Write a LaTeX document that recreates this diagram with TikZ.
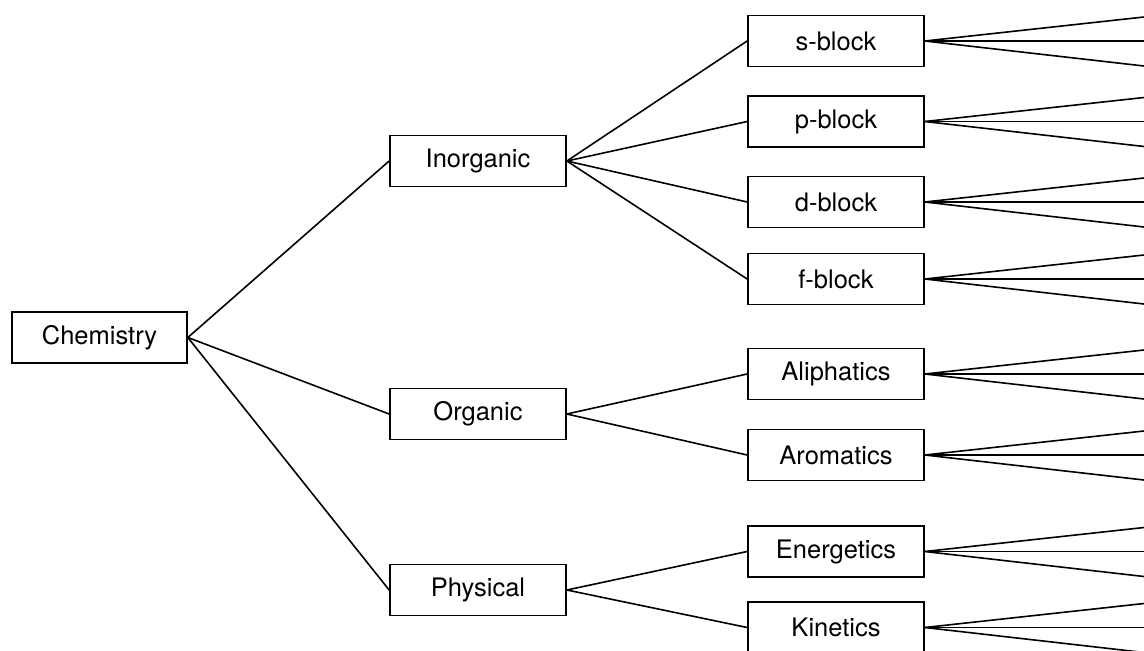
\documentclass[tikz,border=0pt]{standalone}
\usepackage{fontspec}
\setmainfont{TeX Gyre Heros}
\begin{document}
\begin{tikzpicture}[x=1pt,y=-1pt,
  box/.style={draw=black, line width=1.7pt, rectangle, minimum width=176pt, minimum height=51pt, inner sep=0pt, font=\fontsize{25.5}{30}\selectfont},
  link/.style={draw=black, line width=1.6pt}]
\useasboundingbox (0,0) rectangle (1144,651);
\node[box, minimum width=175pt] (chem) at (99.5,337.5) {Chemistry};
\node[box] (inorg) at (478,161) {Inorganic};
\node[box] (org) at (478,414) {Organic};
\node[box] (phys) at (478,590) {Physical};
\node[box] (s) at (836,41) {s-block};
\node[box] (p) at (836,121.5) {p-block};
\node[box] (d) at (836,202) {d-block};
\node[box] (f) at (836,279) {f-block};
\node[box] (ali) at (836,374) {Aliphatics};
\node[box] (aro) at (836,455) {Aromatics};
\node[box] (ene) at (836,551.5) {Energetics};
\node[box] (kin) at (836,627.5) {Kinetics};
\draw[link] (chem.east) -- (inorg.west);
\draw[link] (chem.east) -- (org.west);
\draw[link] (chem.east) -- (phys.west);
\foreach \c in {s,p,d,f} \draw[link] (inorg.east) -- (\c.west);
\foreach \c in {ali,aro} \draw[link] (org.east) -- (\c.west);
\foreach \c in {ene,kin} \draw[link] (phys.east) -- (\c.west);
\foreach \c/\y in {s/41,p/121.5,d/202,f/279,ali/374,aro/455,ene/551.5,kin/627.5}{
  \coordinate (\c-a) at (1144,\y-24);
  \coordinate (\c-b) at (1144,\y);
  \coordinate (\c-c) at (1144,\y+25);
  \draw[link] (\c.east) -- (\c-a);
  \draw[link] (\c.east) -- (\c-b);
  \draw[link] (\c.east) -- (\c-c);
}
\end{tikzpicture}
\end{document}
